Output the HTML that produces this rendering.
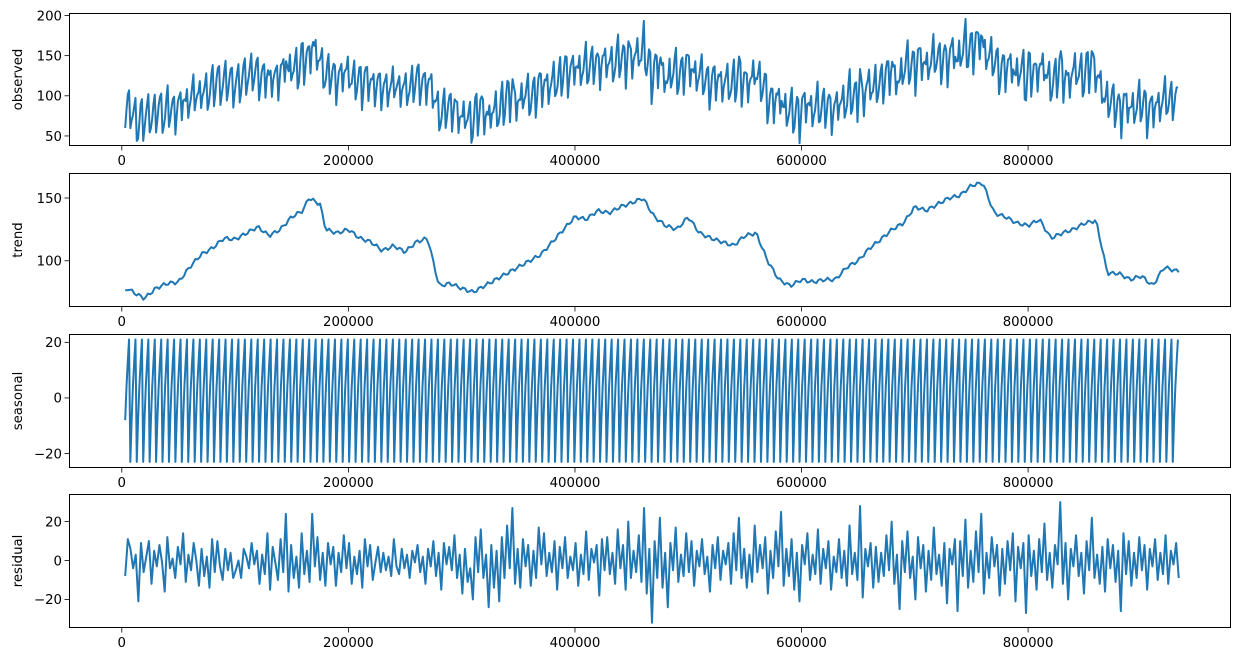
<!DOCTYPE html>
<html><head><meta charset="utf-8">
<style>
html,body{margin:0;padding:0;background:#fff;}
svg{display:block;font-family:"DejaVu Sans","Liberation Sans",sans-serif;}
</style></head>
<body>
<svg id="chart" width="1241" height="662" viewBox="0 0 1241 662" xmlns="http://www.w3.org/2000/svg"></svg>
<script>
// ---- data ----
const trendX = [0,5,10,20,30,40,50,60,70,80,90,100,110,120,130,140,150,160,165,175,180,190,200,210,220,230,240,250,260,270,280,290,300,310,320,330,340,350,360,370,380,390,400,410,420,430,440,450,460,470,480,490,500,510,520,530,540,550,560,570,580,590,600,610,620,630,640,650,660,670,680,690,700,710,720,730,740,750,760,770,780,790,800,810,820,830,840,850,860,870,880,890,900,910,920,930];
const trendY = [73,78,75,70,78,82,83,95,105,110,118,117,122,127,120,125,135,140,150,145,125,122,125,118,115,108,112,107,115,118,80,82,78,75,80,85,90,95,100,105,115,125,135,133,140,138,143,146,150,135,128,125,135,122,118,115,112,120,122,100,85,80,85,83,85,85,95,100,110,117,125,130,143,140,145,150,152,160,162,138,135,130,128,133,118,122,125,130,132,90,90,85,88,80,95,92];
const seasonPattern = [-8,4,13,21,-23];
const seasonPeriod = 5.68; // thousands
const residual = [-8,11,6,-4,3,-21,9,-6,2,10,-12,5,-3,8,-1,-16,12,-4,1,-9,7,-2,14,-11,3,-5,9,0,-13,6,-8,2,-14,11,-6,10,-3,-10,6,-5,4,-9,-5,0,-9,6,2,-4,9,-2,5,-12,3,-7,14,-15,7,-1,-10,11,-6,24,-16,8,-9,2,-14,14,-7,5,-11,24,-3,12,-10,4,-13,9,-2,7,-13,4,-6,13,-4,9,-12,2,-7,5,-14,11,-3,8,-10,-1,7,-6,4,-5,2,-8,11,-3,-7,6,-4,3,-9,5,-1,8,-6,2,-12,6,-3,10,-8,4,-15,9,-2,7,-5,13,-9,3,-17,6,-11,-4,-20,12,-6,16,-9,3,-24,8,-14,5,-21,12,-9,18,-4,27,-12,6,-14,11,-3,8,-13,5,-9,17,-2,14,-8,4,-6,10,-15,7,-4,12,-9,2,-5,9,-13,3,-7,15,-10,6,-1,8,-18,11,-5,12,-7,4,-12,16,-4,8,-15,20,-9,5,-6,13,-11,27,-17,6,-32,10,-9,22,-14,4,-24,9,-5,17,-11,3,-8,14,-6,10,-13,5,-3,11,-7,2,-16,8,-4,12,-10,5,-2,9,-12,14,-5,22,-9,6,-14,3,-11,18,-6,8,-4,12,-17,5,-9,15,-3,25,-13,6,-8,11,-15,4,-21,8,-2,14,-10,3,-7,16,-12,6,-4,10,-15,2,-6,11,-9,5,-13,18,-7,4,-10,28,-19,6,-3,9,-14,7,-11,4,-8,13,-5,20,-12,3,-25,10,-6,15,-9,2,-20,12,-4,8,-16,5,-10,17,-7,3,-13,9,-22,6,-2,11,-26,10,-8,21,-14,5,-11,15,-6,24,-17,4,-9,12,-3,8,-18,6,-12,10,-5,14,-21,7,-4,9,-27,13,-8,5,-15,11,-6,19,-10,4,-14,8,-2,30,-12,9,-20,6,-3,13,-8,4,-17,10,-5,22,-9,3,-12,7,-16,11,-4,8,-11,5,-26,14,-7,10,-13,4,-9,12,-5,8,-15,6,-3,11,-10,4,-7,13,-12,5,-2,9,-9];
const xTicks = [0,200000,400000,600000,800000];
const xTickLabels = ["0","200000","400000","600000","800000"];
const obsTicks = [50,100,150,200];
const trendTicks = [100,150];
const seasTicks = [-20,0,20];
const residTicks = [-20,0,20];

// ---- layout ----
const NS = "http://www.w3.org/2000/svg";
const svg = document.getElementById('chart');
const L = 69, R = 1231;
const xMin = -46.6, xMax = 979.1; // thousands
function xs(v){ return L + (v - xMin) / (xMax - xMin) * (R - L); }
function mk(tag, attrs, parent){ const e = document.createElementNS(NS, tag); for (const k in attrs) e.setAttribute(k, attrs[k]); (parent||svg).appendChild(e); return e; }
function interp(xa, ya, x){
  if (x <= xa[0]) return ya[0];
  for (let i = 1; i < xa.length; i++) if (x <= xa[i]) { const t = (x - xa[i-1])/(xa[i]-xa[i-1]); return ya[i-1] + t*(ya[i]-ya[i-1]); }
  return ya[ya.length-1];
}
const xStart = 3, xEnd = 933;
function residAt(x){ const f = (x - xStart)/(xEnd - xStart)*(residual.length-1); const i = Math.floor(f); const t = f - i; if (i >= residual.length-1) return residual[residual.length-1]; return residual[i]*(1-t)+residual[i+1]*t; }

// series
const seasX = [], seasY = [];
for (let k = 0; ; k++) { const x = xStart + k*seasonPeriod/seasonPattern.length; if (x > xEnd) break; seasX.push(x); seasY.push(seasonPattern[k % seasonPattern.length]); }
const obsY = seasX.map((x,i) => interp(trendX, trendY, x) + seasY[i] + residAt(x));
const resX = residual.map((v,i) => xStart + i*(xEnd-xStart)/(residual.length-1));
const trX = [], trY = [];
for (let x = xStart; x <= xEnd; x += 2) { trX.push(x); trY.push(interp(trendX, trendY, x) + 1.5*Math.sin(x*0.9)); }

const panels = [
  {name:'observed', top:13, bot:146, yMin:37.5, yMax:203.1, ticks:obsTicks, X:seasX, Y:obsY},
  {name:'trend', top:173, bot:307, yMin:63.2, yMax:169.9, ticks:trendTicks, X:trX, Y:trY},
  {name:'seasonal', top:334, bot:468, yMin:-25.2, yMax:23.0, ticks:seasTicks, X:seasX, Y:seasY},
  {name:'residual', top:494, bot:628, yMin:-34.7, yMax:34.2, ticks:residTicks, X:resX, Y:residual}
];

panels.forEach(p => {
  const g = mk('g', {});
  
  
  const ys = v => p.bot - (v - p.yMin)/(p.yMax - p.yMin)*(p.bot - p.top);
  const clipId = 'clip-' + p.name;
  const cp = mk('clipPath', {id: clipId}, g);
  mk('rect', {x:L, y:p.top, width:R-L, height:p.bot-p.top}, cp);
  let d = '';
  p.X.forEach((x,i) => { d += (i ? 'L' : 'M') + xs(x).toFixed(2) + ' ' + ys(p.Y[i]).toFixed(2); });
  const line = mk('path', {d:d, fill:'none', stroke:'#1f77b4', 'stroke-width':2, 'stroke-linejoin':'round', 'clip-path':'url(#'+clipId+')'}, g);
  
  
  const frame = mk('rect', {x:L+0.5, y:p.top+0.5, width:R-L-1, height:p.bot-p.top-1, fill:'none', stroke:'#000', 'stroke-width':1}, g);
  
  
  p.ticks.forEach(t => {
    const y = ys(t);
    mk('line', {x1:L-4.5, x2:L, y1:y, y2:y, stroke:'#000', 'stroke-width':0.8}, g);
    const tx = mk('text', {x:L-7, y:y+4.8, 'text-anchor':'end', 'font-size':13.3, fill:'#000'}, g);
    
    
    tx.textContent = t < 0 ? '\u2212' + Math.abs(t) : String(t);
  });
  xTicks.forEach((t,i) => {
    const x = xs(t/1000);
    mk('line', {x1:x, x2:x, y1:p.bot, y2:p.bot+4.5, stroke:'#000', 'stroke-width':0.8}, g);
    const tx = mk('text', {x:x, y:p.bot+19, 'text-anchor':'middle', 'font-size':13.3, fill:'#000'}, g);
    
    
    tx.textContent = xTickLabels[i];
  });
  const cy = (p.top + p.bot)/2;
  const lab = mk('text', {x:0, y:0, transform:'translate(22,'+cy+') rotate(-90)', 'text-anchor':'middle', 'font-size':13.3, fill:'#000'}, g);
  
  
  lab.textContent = p.name;
});
</script>
</body></html>
